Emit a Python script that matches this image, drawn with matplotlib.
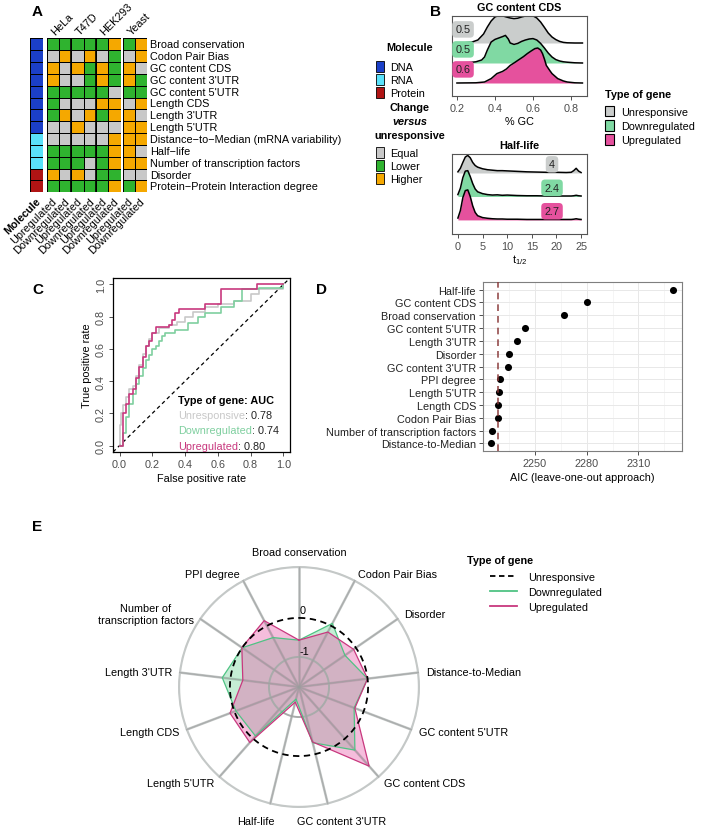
import numpy as np
import matplotlib.pyplot as plt
from matplotlib.colors import ListedColormap
from matplotlib.patches import Patch
from matplotlib.lines import Line2D

plt.rcParams['font.family'] = ['Liberation Sans', 'DejaVu Sans']
plt.rcParams['font.size'] = 7.8

W, H = 702, 828
MINUS = '\u2212'

# ---------------- panel A data ----------------
features = ["Broad conservation", "Codon Pair Bias", "GC content CDS", "GC content 3'UTR",
            "GC content 5'UTR", "Length CDS", "Length 3'UTR", "Length 5'UTR",
            f"Distance{MINUS}to{MINUS}Median (mRNA variability)", f"Half{MINUS}life",
            "Number of transcription factors", "Disorder",
            f"Protein{MINUS}Protein Interaction degree"]
feature_molecule = ['DNA'] * 8 + ['RNA'] * 3 + ['Protein'] * 2
molecule_names = ['DNA', 'RNA', 'Protein']
molecule_colors = ['#1b3fc8', '#5ae2fb', '#b01414']
change_names = ['Equal', 'Lower', 'Higher']
change_codes = ['E', 'L', 'H']
change_colors = ['#c8c8c8', '#2fb32f', '#f5a800']
cell_lines = ['HeLa', 'T47D', 'HEK293', 'Yeast']
gene_types_short = ['Upregulated', 'Downregulated']
# columns: HeLa up/down, T47D up/down, HEK293 up/down
human_change = ["LLLLLH", "EHEHEL", "HEHLHL", "HEELHL", "LLLLLE", "LEEEHH", "LHEHLH",
                "EEHEEE", "EEEEEH", "LLLLLH", "LLLELH", "HEHELL", "LLLLLH"]
# columns: Yeast up/down
yeast_change = ["LH", "EH", "HE", "HL", "LL", "EH", "HE", "HH", "HH", "HE", "HH", "EE", "LH"]

# ---------------- panel B data ----------------
type_names = ['Unresponsive', 'Downregulated', 'Upregulated']
type_fill = ['#cacdcc', '#80d9a3', '#e5519d']
gc_unres_x = [0.20, 0.24, 0.28, 0.31, 0.34, 0.36, 0.38, 0.40, 0.42, 0.44, 0.46, 0.48, 0.50, 0.52,
              0.54, 0.56, 0.58, 0.60, 0.62, 0.64, 0.66, 0.68, 0.70, 0.72, 0.74, 0.76, 0.78, 0.82, 0.86]
gc_unres_h = [0.0, 0.01, 0.05, 0.15, 0.45, 0.8, 1.1, 1.3, 1.38, 1.36, 1.3, 1.25, 1.22, 1.24,
              1.3, 1.35, 1.38, 1.36, 1.25, 1.05, 0.78, 0.5, 0.3, 0.17, 0.08, 0.03, 0.01, 0.0, 0.0]
gc_down_x = [0.20, 0.26, 0.30, 0.33, 0.345, 0.36, 0.38, 0.40, 0.42, 0.44, 0.455, 0.47, 0.48, 0.50,
             0.52, 0.54, 0.56, 0.58, 0.60, 0.62, 0.64, 0.66, 0.68, 0.70, 0.72, 0.74, 0.76, 0.78, 0.82, 0.86]
gc_down_h = [0.0, 0.02, 0.06, 0.15, 0.3, 0.65, 1.05, 1.18, 1.25, 1.32, 1.38, 1.2, 1.0, 0.93,
             0.98, 1.08, 1.15, 1.2, 1.22, 1.15, 0.98, 0.75, 0.5, 0.3, 0.17, 0.1, 0.06, 0.04, 0.01, 0.0]
gc_up_x = [0.20, 0.30, 0.345, 0.38, 0.41, 0.44, 0.46, 0.48, 0.50, 0.52, 0.55, 0.57, 0.59, 0.61,
           0.625, 0.64, 0.65, 0.66, 0.67, 0.69, 0.70, 0.73, 0.76, 0.78, 0.82, 0.86]
gc_up_h = [0.0, 0.01, 0.05, 0.22, 0.47, 0.58, 0.7, 0.88, 1.0, 1.13, 1.32, 1.47, 1.6, 1.72,
           1.75, 1.65, 1.47, 1.2, 0.88, 0.6, 0.47, 0.22, 0.1, 0.05, 0.01, 0.0]
gc_labels = ['0.5', '0.5', '0.6']

hl_t = [0, 0.5, 1, 1.5, 2, 2.5, 3, 3.5, 4, 5, 6, 7, 8, 9, 10, 12, 14, 16, 18, 20, 22, 23,
        23.5, 24, 24.5, 25]
hl_unres_h = [0.05, 0.2, 0.45, 0.68, 0.75, 0.65, 0.45, 0.32, 0.25, 0.18, 0.14, 0.12, 0.1, 0.1,
              0.09, 0.07, 0.05, 0.04, 0.03, 0.03, 0.02, 0.03, 0.1, 0.2, 0.08, 0.02]
hl_down_h = [0.08, 0.35, 0.8, 1.08, 1.1, 0.85, 0.55, 0.32, 0.2, 0.12, 0.08, 0.06, 0.07, 0.05,
             0.06, 0.04, 0.03, 0.03, 0.02, 0.02, 0.02, 0.02, 0.03, 0.05, 0.03, 0.02]
hl_up_h = [0.08, 0.4, 0.95, 1.25, 1.28, 1.0, 0.6, 0.32, 0.18, 0.1, 0.07, 0.05, 0.04, 0.04,
           0.03, 0.03, 0.02, 0.02, 0.02, 0.02, 0.02, 0.02, 0.03, 0.05, 0.03, 0.02]
hl_labels = ['4', '2.4', '2.7']

# ---------------- panel C data ----------------
roc_colors = ['#c8c8c8', '#7fcf9f', '#c8387e']
roc_auc = ['0.78', '0.74', '0.80']
roc_unres_fpr = [0, 0, 0.01, 0.02, 0.04, 0.06, 0.08, 0.10, 0.12, 0.14, 0.16, 0.18, 0.20, 0.24,
                 0.30, 0.35, 0.40, 0.45, 0.52, 0.60, 0.70, 0.80, 0.85, 1.0]
roc_unres_tpr = [0, 0.13, 0.2, 0.25, 0.3, 0.35, 0.37, 0.43, 0.5, 0.57, 0.62, 0.66, 0.7, 0.73,
                 0.75, 0.77, 0.8, 0.83, 0.86, 0.88, 0.9, 0.94, 0.97, 1.0]
roc_down_fpr = [0, 0.02, 0.04, 0.06, 0.08, 0.10, 0.12, 0.14, 0.16, 0.18, 0.20, 0.22, 0.24, 0.26,
                0.28, 0.34, 0.42, 0.48, 0.52, 0.62, 0.70, 0.75, 0.85, 1.0]
roc_down_tpr = [0, 0.08, 0.18, 0.26, 0.32, 0.38, 0.43, 0.48, 0.53, 0.56, 0.6, 0.62, 0.65, 0.68,
                0.7, 0.72, 0.76, 0.8, 0.82, 0.86, 0.9, 0.97, 0.98, 1.0]
roc_up_fpr = [0, 0.02, 0.04, 0.06, 0.08, 0.10, 0.12, 0.14, 0.16, 0.18, 0.20, 0.22, 0.30, 0.32,
              0.34, 0.36, 0.52, 0.62, 0.84, 1.0]
roc_up_tpr = [0, 0.2, 0.26, 0.32, 0.35, 0.42, 0.49, 0.55, 0.62, 0.65, 0.7, 0.735, 0.75, 0.78,
              0.82, 0.85, 0.88, 0.97, 1.0, 1.0]

# ---------------- panel D data ----------------
aic_features = ['Half-life', 'GC content CDS', 'Broad conservation', "GC content 5'UTR",
                "Length 3'UTR", 'Disorder', "GC content 3'UTR", 'PPI degree', "Length 5'UTR",
                'Length CDS', 'Codon Pair Bias', 'Number of transcription factors',
                'Distance-to-Median']
aic_values = [2330.3, 2280.0, 2266.7, 2244.2, 2239.7, 2235.0, 2234.2, 2229.8, 2228.9, 2228.5,
              2228.3, 2225.0, 2224.6]
aic_full_model = 2228.5

# ---------------- panel E data ----------------
radar_axes = ['Broad conservation', 'Codon Pair Bias', 'Disorder', 'Distance-to-Median',
              "GC content 5'UTR", 'GC content CDS', "GC content 3'UTR", 'Half-life',
              "Length 5'UTR", 'Length CDS', "Length 3'UTR", 'Number of\ntranscription factors',
              'PPI degree']
radar_down = [-0.57, 0.07, -0.34, 0.0, -0.26, 0.39, -0.30, -1.45, -0.09, -0.04, 0.21, 0.0, -0.34]
radar_up = [-0.57, -0.18, -0.07, 0.0, -0.24, 0.94, -0.32, -1.37, 0.13, 0.12, -0.32, 0.01, 0.15]
radar_unres = [0.0] * 13

fig = plt.figure(figsize=(W / 100, H / 100), dpi=100)


def px_axes(x0, y0, x1, y1, **kw):
    return fig.add_axes([x0 / W, 1 - y1 / H, (x1 - x0) / W, (y1 - y0) / H], **kw)


def fig_text(x, y, s, **kw):
    return fig.text(x / W, 1 - y / H, s, **kw)


for lab, (x, y) in zip('ABCDE', [(32, 12), (430, 12), (32, 290), (316, 290), (32, 527)]):
    fig_text(x, y, lab, fontsize=11, fontweight='bold', va='center')

# ---------------- panel A ----------------
mol_idx = np.array([[molecule_names.index(m)] for m in feature_molecule])
hum_idx = np.array([[change_codes.index(c) for c in row] for row in human_change])
yst_idx = np.array([[change_codes.index(c) for c in row] for row in yeast_change])
n_rows = len(features)

ax_mol = px_axes(30, 39.3, 42.7, 193.3)
ax_hum = px_axes(46.7, 39.3, 120.7, 193.3)
ax_yst = px_axes(123.3, 39.3, 146.7, 193.3)
for ax, idx, cols in [(ax_mol, mol_idx, molecule_colors), (ax_hum, hum_idx, change_colors),
                      (ax_yst, yst_idx, change_colors)]:
    ax.pcolormesh(idx, cmap=ListedColormap(cols), vmin=-0.5, vmax=len(cols) - 0.5,
                  edgecolors='black', linewidth=0.7)
    ax.set_xlim(0, idx.shape[1])
    ax.set_ylim(n_rows, 0)
    ax.axis('off')
for xv in [2, 4]:
    ax_hum.axvline(xv, color='black', lw=1.2)

for i, name in enumerate(features):
    ax_yst.text(2.3, i + 0.5, name, va='center', ha='left', fontsize=7.8, clip_on=False)

rot_kw = dict(rotation=45, rotation_mode='anchor', clip_on=False, fontsize=7.8)
ax_mol.text(0.75, n_rows + 0.55, 'Molecule', ha='right', va='center', fontweight='bold', **rot_kw)
for ax, ncol in [(ax_hum, 6), (ax_yst, 2)]:
    for j in range(ncol):
        ax.text(j + 0.7, n_rows + 0.55, gene_types_short[j % 2], ha='right', va='center', **rot_kw)
for k, name in enumerate(cell_lines[:3]):
    ax_hum.text(2 * k + 0.65, -0.25, name, ha='left', va='baseline', **rot_kw)
ax_yst.text(0.75, -0.25, cell_lines[3], ha='left', va='baseline', **rot_kw)

leg_kw = dict(loc='upper left', frameon=False, handlelength=0.7, handleheight=1.2,
              handletextpad=0.6, labelspacing=0.15, borderpad=0, borderaxespad=0, fontsize=7.8)
fig_text(410, 48, 'Molecule', fontweight='bold', ha='center', va='center')
fig.legend([Patch(fc=c, ec='black', lw=0.6) for c in molecule_colors], molecule_names,
           bbox_to_anchor=(376 / W, 1 - 62 / H), **leg_kw)
fig_text(410, 108, 'Change', fontweight='bold', ha='center', va='center')
fig_text(410, 122, 'versus', fontweight='bold', style='italic', ha='center', va='center')
fig_text(410, 136, 'unresponsive', fontweight='bold', ha='center', va='center')
fig.legend([Patch(fc=c, ec='black', lw=0.6) for c in change_colors], change_names,
           bbox_to_anchor=(376 / W, 1 - 148 / H), **leg_kw)

# ---------------- panel B ----------------
tick_grey = '#4d4d4d'


def ridge(ax, xs, hs, base, color, z):
    ys = base + np.asarray(hs)
    ax.fill_between(xs, base, ys, color=color, lw=0, zorder=z)
    ax.plot(xs, ys, color='black', lw=1.1, zorder=z + 0.5)


def style_ridge_axes(ax):
    for s in ax.spines.values():
        s.set_color('#555555')
        s.set_linewidth(0.8)
    ax.set_yticks([])
    ax.tick_params(axis='x', colors='#333333', labelcolor=tick_grey, length=3, width=0.6,
                   labelsize=7.8, pad=2)


axB1 = px_axes(452, 17, 587, 97)
gc_series = [(gc_unres_x, gc_unres_h), (gc_down_x, gc_down_h), (gc_up_x, gc_up_h)]
for k, (xs, hs) in enumerate(gc_series):
    ridge(axB1, xs, hs, 2 - k, type_fill[k], 2 + k)
    axB1.text(0.232, 2 - k + 0.68, gc_labels[k], ha='center', va='center', fontsize=7.8,
              zorder=10, color='#222222',
              bbox=dict(boxstyle='round,pad=0.3,rounding_size=0.35', fc=type_fill[k], ec='none'))
axB1.set_xlim(0.174, 0.884)
axB1.set_ylim(-0.65, 3.35)
axB1.set_xticks([0.2, 0.4, 0.6, 0.8])
axB1.set_xticklabels(['0.2', '0.4', '0.6', '0.8'])
style_ridge_axes(axB1)
axB1.set_xlabel('% GC', fontsize=7.8, labelpad=2)
axB1.set_title('GC content CDS', fontsize=7.8, fontweight='bold', pad=4)

axB2 = px_axes(452, 155, 587, 235)
hl_series = [hl_unres_h, hl_down_h, hl_up_h]
for k, hs in enumerate(hl_series):
    ridge(axB2, hl_t, hs, 2 - k, type_fill[k], 2 + k)
    axB2.text(19.1, 2 - k + 0.37, hl_labels[k], ha='center', va='center', fontsize=7.8,
              zorder=10, color='#222222',
              bbox=dict(boxstyle='round,pad=0.3,rounding_size=0.35', fc=type_fill[k], ec='none'))
axB2.set_xlim(-1.2, 26.2)
axB2.set_ylim(-0.6, 2.81)
axB2.set_xticks([0, 5, 10, 15, 20, 25])
style_ridge_axes(axB2)
axB2.set_xlabel('$\\mathregular{t_{1/2}}$', fontsize=7.8, labelpad=1)
axB2.set_title('Half-life', fontsize=7.8, fontweight='bold', pad=4)

fig_text(605, 95, 'Type of gene', fontweight='bold', va='center')
fig.legend([Patch(fc=c, ec='black', lw=0.8) for c in type_fill], type_names,
           loc='upper left', bbox_to_anchor=(605 / W, 1 - 107 / H), frameon=False,
           handlelength=0.85, handleheight=1.1, handletextpad=0.6, labelspacing=0.3,
           borderpad=0, borderaxespad=0, fontsize=7.8)

# ---------------- panel C ----------------
axC = px_axes(113, 279, 290, 453)
roc_series = [(roc_unres_fpr, roc_unres_tpr), (roc_down_fpr, roc_down_tpr), (roc_up_fpr, roc_up_tpr)]
for k, (fpr, tpr) in enumerate(roc_series):
    axC.step(fpr, tpr, where='post', color=roc_colors[k], lw=1.2, zorder=2 + k)
axC.plot([-0.04, 1.04], [-0.04, 1.04], color='black', ls=(0, (3, 2.5)), lw=0.9, zorder=1)
axC.set_xlim(-0.04, 1.04)
axC.set_ylim(-0.04, 1.04)
ticks = [0, 0.2, 0.4, 0.6, 0.8, 1.0]
axC.set_xticks(ticks)
axC.set_yticks(ticks)
axC.set_xticklabels([f'{t:.1f}' for t in ticks])
axC.set_yticklabels([f'{t:.1f}' for t in ticks], rotation=90, va='center')
axC.tick_params(colors='#333333', labelcolor=tick_grey, length=3, width=0.6, labelsize=7.8, pad=2)
for s in axC.spines.values():
    s.set_linewidth(0.9)
axC.set_xlabel('False positive rate', fontsize=7.8, labelpad=3)
axC.set_ylabel('True positive rate', fontsize=7.8, labelpad=3)
axC.text(0.355, 0.285, 'Type of gene: AUC', fontweight='bold', fontsize=7.8, va='center')
for k in range(3):
    t = axC.text(0.355, 0.19 - 0.095 * k, type_names[k], color=roc_colors[k], fontsize=7.8,
                 va='center')
    axC.annotate(': ' + roc_auc[k], xy=(1, 0.5), xycoords=t, va='center', ha='left',
                 fontsize=7.8, color='#222222')

# ---------------- panel D ----------------
axD = px_axes(483, 283, 682, 452)
ypos = np.arange(len(aic_features))
axD.scatter(aic_values, ypos, s=26, color='black', zorder=3, lw=0)
axD.axvline(aic_full_model, color='#8b3a3a', ls=(0, (4, 3)), lw=1.2, zorder=4, alpha=0.9)
axD.set_xlim(2219.8, 2335.3)
axD.set_ylim(12.6, -0.6)
axD.set_yticks(ypos)
axD.set_yticklabels(aic_features, fontsize=7.8, color='#222222')
axD.set_xticks([2250, 2280, 2310])
axD.set_xticks([2235, 2265, 2295, 2325], minor=True)
axD.grid(which='major', color='#e8e8e8', lw=0.7)
axD.grid(which='minor', axis='x', color='#f2f2f2', lw=0.5)
axD.set_axisbelow(True)
axD.tick_params(which='major', colors='#333333', labelcolor=tick_grey, length=3, width=0.6,
                labelsize=7.8, pad=2)
axD.tick_params(which='minor', length=0)
axD.tick_params(axis='y', labelcolor='#222222')
for s in axD.spines.values():
    s.set_color('#7f7f7f')
    s.set_linewidth(0.8)
axD.set_xlabel('AIC (leave-one-out approach)', fontsize=7.8, labelpad=3)

# ---------------- panel E ----------------
r_center, r_outer = -1.77, 1.33
axE = px_axes(178, 567, 420, 809, projection='polar')
axE.set_theta_zero_location('N')
axE.set_theta_direction(-1)
axE.set_ylim(r_center, r_outer)
axE.grid(False)
axE.set_xticks([])
axE.set_yticks([])
axE.spines['polar'].set_visible(False)
axE.patch.set_alpha(0)

n_ax = len(radar_axes)
ang = np.arange(n_ax) * 2 * np.pi / n_ax
circ = np.linspace(0, 2 * np.pi, 300)
grid_grey = '#c4c8c7'
axE.plot(circ, np.full_like(circ, r_outer - 0.02), color=grid_grey, lw=2.0, zorder=1)
axE.plot(circ, np.full_like(circ, -1.0), color='#a8abaa', lw=1.4, zorder=4)
for a in ang:
    axE.plot([a, a], [r_center, r_outer - 0.02], color=grid_grey, lw=1.8, zorder=1)
    axE.plot([a, a], [r_center, r_outer - 0.02], color='#9a9c9c', lw=1.0, zorder=4, alpha=0.6)

ang_c = np.append(ang, ang[0])
down_c = np.append(radar_down, radar_down[0])
up_c = np.append(radar_up, radar_up[0])
axE.fill(ang_c, down_c, color='#7fd9a3', alpha=0.45, lw=0, zorder=2)
axE.fill(ang_c, up_c, color='#e65aa8', alpha=0.4, lw=0, zorder=3)
axE.plot(ang_c, down_c, color='#4fc384', lw=0.9, zorder=5)
axE.plot(ang_c, up_c, color='#c8387e', lw=0.9, zorder=5)
axE.plot(circ, np.full_like(circ, radar_unres[0]), color='black', lw=1.3, ls=(0, (3.5, 2.5)),
         zorder=6)
axE.text(np.deg2rad(3), 0.2, '0', fontsize=7.8, ha='center', va='center', zorder=7)
axE.text(np.deg2rad(8), -0.85, '-1', fontsize=7.8, ha='center', va='center', zorder=7)

PT = 0.72  # points per pixel at 100 dpi
for a, name in zip(ang, radar_axes):
    s, c = np.sin(a), np.cos(a)
    if c > 0.9:
        ha, va, off = 'center', 'bottom', (0, 9)
    elif c < -0.9:
        ha, va, off = 'center', 'top', (np.sign(s) * 14, -12)
    else:
        ha = 'left' if s > 0 else 'right'
        va, off = 'center', (7 * s, 7 * c)
    axE.annotate(name, xy=(a, r_outer), xytext=(off[0] * PT, off[1] * PT),
                 textcoords='offset points', ha=ha, va=va, fontsize=7.8,
                 multialignment='center', annotation_clip=False)

fig_text(467, 561, 'Type of gene', fontweight='bold', va='center')
fig.legend([Line2D([], [], color='black', ls=(0, (3, 2)), lw=1.3),
            Line2D([], [], color='#4fc384', lw=1.3),
            Line2D([], [], color='#c8387e', lw=1.3)], type_names,
           loc='upper left', bbox_to_anchor=(490 / W, 1 - 573 / H), frameon=False,
           handlelength=2.5, handletextpad=1.0, labelspacing=0.45, borderpad=0,
           borderaxespad=0, fontsize=7.8)

fig.savefig('out.png', dpi=100)
